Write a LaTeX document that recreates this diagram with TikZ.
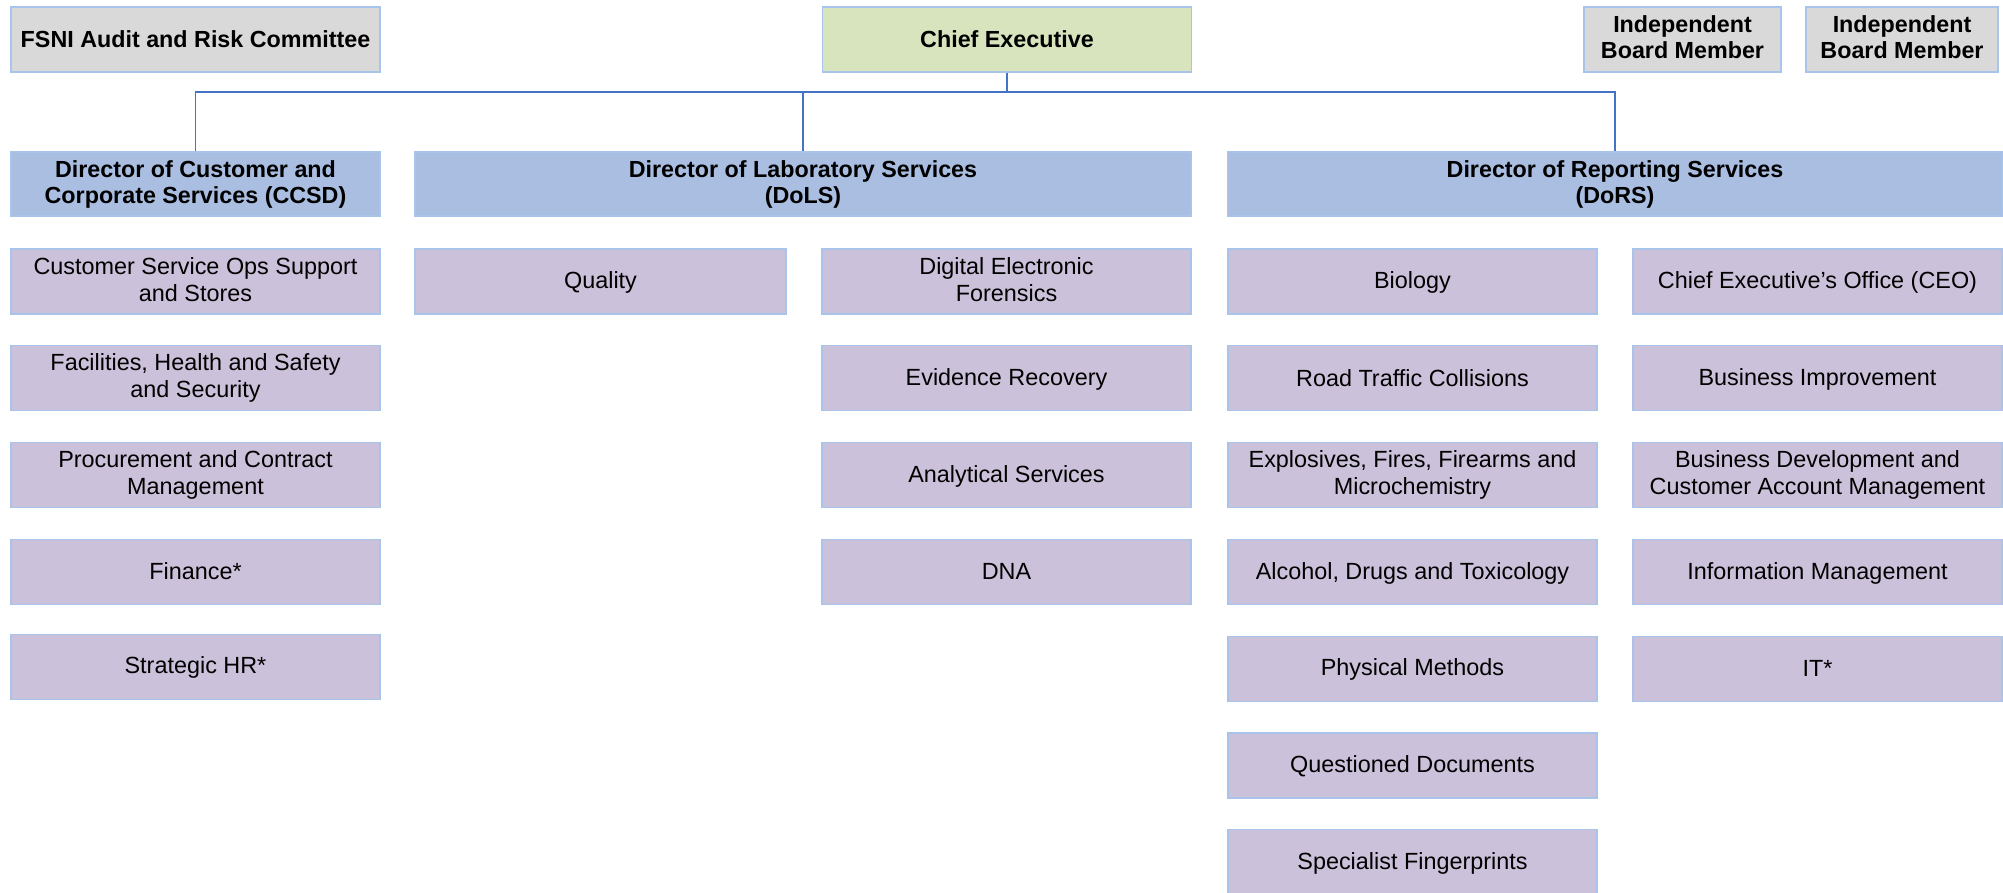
\documentclass[tikz,border=0pt]{standalone}
\usepackage{fontspec}
\setmainfont{Liberation Sans}
\definecolor{edgeblue}{HTML}{A9C4EB}
\definecolor{linkblue}{HTML}{4472C4}
\definecolor{greyfill}{HTML}{D9D9D9}
\definecolor{greenfill}{HTML}{D7E4BD}
\definecolor{dirfill}{HTML}{A9BEE1}
\definecolor{unitfill}{HTML}{CCC1DA}
% strut that balances cap height in the box
\newcommand\boxstrut{\rule[-4pt]{0pt}{23.4pt}}
\tikzset{
  orgbox/.style={draw=edgeblue, line width=1.3pt, inner sep=0pt, align=center,
    minimum height=65pt, execute at begin node=\boxstrut, execute at end node=\boxstrut},
  headbox/.style={orgbox, font=\fontsize{23.3}{26}\selectfont\bfseries},
  unitbox/.style={orgbox, fill=unitfill, minimum width=369pt,
    font=\fontsize{23.4}{27}\selectfont},
  conn/.style={draw=linkblue, line width=1.9pt},
}
\begin{document}
\begin{tikzpicture}[x=1pt, y=-1pt]
\useasboundingbox (0,0) rectangle (2003,893);

% top row
\node[headbox, fill=greyfill, minimum width=369pt] (arc) at (195.5,39.5) {FSNI Audit and Risk Committee};
\node[headbox, fill=greenfill, minimum width=369pt] (chief) at (1007,39.5) {Chief Executive};
\node[headbox, fill=greyfill, minimum width=197pt] (ibmA) at (1682.5,39.5) {Independent\\Board Member};
\node[headbox, fill=greyfill, minimum width=192pt] (ibmB) at (1902,39.5) {Independent\\Board Member};

% directors
\node[headbox, fill=dirfill, minimum width=369pt, minimum height=64pt] (ccsd) at (195.5,184) {Director of Customer and\\Corporate Services (CCSD)};
\node[headbox, fill=dirfill, minimum width=776pt, minimum height=64pt] (dols) at (803,184) {Director of Laboratory Services\\(DoLS)};
\node[headbox, fill=dirfill, minimum width=775pt, minimum height=64pt] (dors) at (1615,184) {Director of Reporting Services\\(DoRS)};

% reporting lines
\coordinate (bus) at (0,92);
\draw[conn] (ccsd.north) -- (ccsd.north |- bus) -- (dors.north |- bus) -- (dors.north);
\draw[conn] (dols.north) -- (dols.north |- bus);
\draw[conn, line width=2.2pt] (chief.south) -- (chief.south |- bus);

% CCSD units
\node[unitbox] (a1) at (195.5,281.5) {Customer Service Ops Support\\and Stores};
\node[unitbox] (a2) at (195.5,378.3) {Facilities, Health and Safety\\and Security};
\node[unitbox] (a3) at (195.5,475.1) {Procurement and Contract\\Management};
\node[unitbox] (a4) at (195.5,571.9) {Finance*};
\node[unitbox] (a5) at (195.5,666.7) {Strategic HR*};

% DoLS units
\node[unitbox, minimum width=371pt] (b1) at (600.5,281.5) {Quality};
\node[unitbox] (c1) at (1006.5,281.5) {Digital Electronic\\Forensics};
\node[unitbox] (c2) at (1006.5,378.3) {Evidence Recovery};
\node[unitbox] (c3) at (1006.5,475.1) {Analytical Services};
\node[unitbox] (c4) at (1006.5,571.9) {DNA};

% DoRS units
\node[unitbox] (d1) at (1412.5,281.5) {Biology};
\node[unitbox] (d2) at (1412.5,378.3) {Road Traffic Collisions};
\node[unitbox] (d3) at (1412.5,475.1) {Explosives, Fires, Firearms and\\Microchemistry};
\node[unitbox] (d4) at (1412.5,571.9) {Alcohol, Drugs and Toxicology};
\node[unitbox] (d5) at (1412.5,668.7) {Physical Methods};
\node[unitbox] (d6) at (1412.5,765.5) {Questioned Documents};
\node[unitbox] (d7) at (1412.5,862.3) {Specialist Fingerprints};

\node[unitbox] (e1) at (1817.5,281.5) {Chief Executive’s Office (CEO)};
\node[unitbox] (e2) at (1817.5,378.3) {Business Improvement};
\node[unitbox] (e3) at (1817.5,475.1) {Business Development and\\Customer Account Management};
\node[unitbox] (e4) at (1817.5,571.9) {Information Management};
\node[unitbox] (e5) at (1817.5,668.7) {IT*};
\end{tikzpicture}
\end{document}
